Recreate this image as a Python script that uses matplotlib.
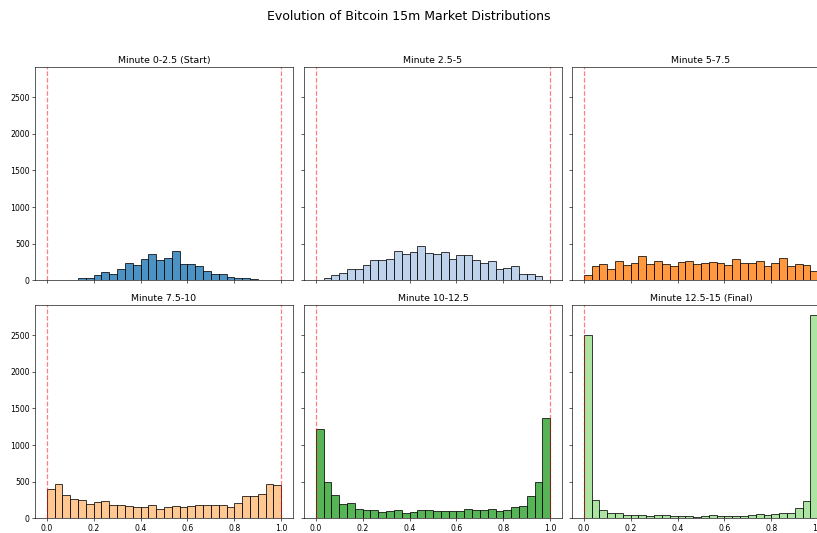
import matplotlib
matplotlib.use("Agg")
import matplotlib.pyplot as plt
import numpy as np

# 30 equal-width bins on [0, 1], counts per bin for each 2.5 minute window
bin_edges = np.linspace(0, 1, 31)

titles = [
    "Minute 0-2.5 (Start)",
    "Minute 2.5-5",
    "Minute 5-7.5",
    "Minute 7.5-10",
    "Minute 10-12.5",
    "Minute 12.5-15 (Final)",
]

counts_0_25 = [2, 5, 8, 10, 35, 35, 70, 110, 90, 150, 240, 205, 290, 365, 275,
               300, 395, 228, 220, 195, 123, 90, 92, 50, 36, 38, 22, 10, 10, 5]
counts_25_5 = [8, 36, 77, 105, 160, 160, 210, 278, 278, 295, 400, 364, 382, 464, 368,
               355, 391, 295, 345, 341, 273, 241, 264, 155, 168, 200, 82, 91, 59, 5]
counts_5_75 = [77, 195, 227, 160, 268, 214, 241, 336, 227, 268, 227, 200, 245, 268, 227,
               241, 255, 241, 209, 291, 241, 241, 259, 195, 236, 309, 200, 227, 214, 123]
counts_75_10 = [395, 464, 323, 259, 250, 200, 227, 236, 186, 186, 168, 159, 155, 177, 132,
                159, 173, 155, 164, 182, 182, 182, 186, 150, 209, 309, 309, 332, 464, 450]
counts_10_125 = [1214, 495, 318, 200, 209, 132, 109, 109, 91, 105, 114, 77, 82, 109, 114,
                 105, 95, 95, 95, 132, 114, 109, 132, 100, 114, 159, 164, 300, 500, 1364]
counts_125_15 = [2500, 255, 109, 68, 68, 41, 41, 50, 36, 41, 41, 32, 36, 36, 18,
                 27, 41, 27, 27, 36, 32, 50, 59, 41, 55, 73, 73, 141, 232, 2770]

all_counts = [counts_0_25, counts_25_5, counts_5_75,
              counts_75_10, counts_10_125, counts_125_15]

colors = plt.cm.tab20.colors[:6]

fig = plt.figure(figsize=(817 / 56, 533 / 56), dpi=56)

# hand placed grid, third column runs off the right edge
lefts = [35 / 817, 304 / 817, 572 / 817]
width = 258 / 817
bottoms = [1 - 280.3 / 533, 1 - 518.3 / 533]
height = 213 / 533

axes = []
for r in range(2):
    for c in range(3):
        ax = fig.add_axes([lefts[c], bottoms[r], width, height])
        axes.append(ax)

centers = (bin_edges[:-1] + bin_edges[1:]) / 2
ymax = max(max(cnt) for cnt in all_counts) * 1.05

for i, ax in enumerate(axes):
    ax.hist(centers, bins=bin_edges, weights=all_counts[i], color=colors[i],
            edgecolor="black", alpha=0.8, linewidth=1.2)
    ax.axvline(0, color="red", linestyle="--", alpha=0.5, linewidth=1.6)
    ax.axvline(1, color="red", linestyle="--", alpha=0.5, linewidth=1.6)
    ax.set_title(titles[i], fontsize=12)
    ax.set_xlim(-0.05, 1.05)
    ax.set_ylim(0, ymax)
    ax.set_xticks([0.0, 0.2, 0.4, 0.6, 0.8, 1.0])
    ax.set_yticks([0, 500, 1000, 1500, 2000, 2500])
    ax.tick_params(labelsize=10)
    if i < 3:
        ax.tick_params(labelbottom=False)
    if i % 3 != 0:
        ax.tick_params(labelleft=False)

fig.suptitle("Evolution of Bitcoin 15m Market Distributions", fontsize=16,
             y=1 - 16 / 533, va="center")

fig.savefig("out.png", dpi=56)
